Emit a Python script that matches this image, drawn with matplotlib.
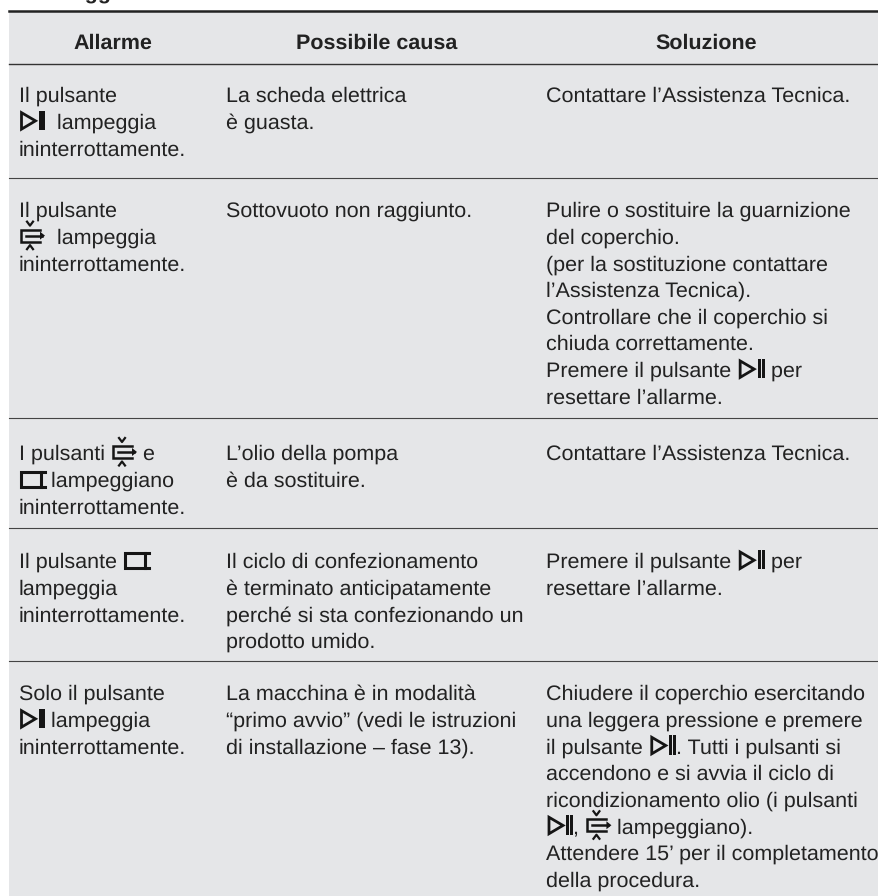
import matplotlib
matplotlib.use("Agg")
import matplotlib.pyplot as plt
from matplotlib.patches import Rectangle, Polygon

plt.rcParams["font.family"] = ["Liberation Sans", "DejaVu Sans"]
plt.rcParams["text.hinting"] = "no_hinting"

BG = "#e5e6e8"
INK = "#222222"
ICON = "#151515"
FONT_SIZE = 15.47
LINE_H = 26.65

HEADERS = ["Allarme", "Possibile causa", "Soluzione"]
HEADER_X = [113, 376.5, 706.5]
COL_X = [19, 226.5, 546.5]
RULES = [64, 178, 418, 528, 661]
ROW_BASE = [102, 217, 460, 568, 700]

ALARMS = [
    ["Il pulsante", "{pb}  lampeggia", "ininterrottamente."],
    ["Il pulsante", "{vac}  lampeggia", "ininterrottamente."],
    ["I pulsanti {vac} e", "{rect} lampeggiano", "ininterrottamente."],
    ["Il pulsante {rect}", "lampeggia", "ininterrottamente."],
    ["Solo il pulsante", "{pb} lampeggia", "ininterrottamente."],
]
CAUSES = [
    ["La scheda elettrica", "è guasta."],
    ["Sottovuoto non raggiunto."],
    ["L’olio della pompa", "è da sostituire."],
    ["Il ciclo di confezionamento", "è terminato anticipatamente",
     "perché si sta confezionando un", "prodotto umido."],
    ["La macchina è in modalità", "“primo avvio” (vedi le istruzioni",
     "di installazione – fase 13)."],
]
FIXES = [
    ["Contattare l’Assistenza Tecnica."],
    ["Pulire o sostituire la guarnizione", "del coperchio.",
     "(per la sostituzione contattare", "l’Assistenza Tecnica).",
     "Controllare che il coperchio si", "chiuda correttamente.",
     "Premere il pulsante {pp} per", "resettare l’allarme."],
    ["Contattare l’Assistenza Tecnica."],
    ["Premere il pulsante {pp} per", "resettare l’allarme."],
    ["Chiudere il coperchio esercitando", "una leggera pressione e premere",
     "il pulsante {pp}. Tutti i pulsanti si", "accendono e si avvia il ciclo di",
     "ricondizionamento olio (i pulsanti", "{pp}, {vac} lampeggiano).",
     "Attendere 15’ per il completamento", "della procedura."],
]
ICON_W = {"pb": 26, "pp": 27, "vac": 26, "rect": 26}


def draw_play(ax, x, y, bars):
    # x is the left edge, y the text baseline
    ax.add_patch(Polygon([(x + 1.5, y - 16), (x + 1.5, y + 0.5), (x + 15.5, y - 7.8)], closed=True,
                         fill=False, ec=ICON, lw=2.0, joinstyle="miter"))
    if bars == 1:
        ax.add_patch(Rectangle((x + 19, y - 18), 6, 19.5, fc=ICON, ec="none"))
    else:
        ax.add_patch(Rectangle((x + 19, y - 18), 3.0, 19.5, fc=ICON, ec="none"))
        ax.add_patch(Rectangle((x + 22.9, y - 18), 3.0, 19.5, fc=ICON, ec="none"))


def draw_vac(ax, x, y):
    ax.plot([x + 20, x + 1, x + 1, x + 20], [y - 14, y - 14, y - 2, y - 2], color=ICON, lw=1.8,
            solid_joinstyle="miter")
    ax.plot([x + 6, x + 22], [y - 8, y - 8], color=ICON, lw=1.8)
    ax.add_patch(Polygon([(x + 20, y - 12), (x + 25, y - 8), (x + 20, y - 4)], fc=ICON, ec="none"))
    ax.plot([x + 7, x + 10, x + 13], [y - 22, y - 18, y - 22], color=ICON, lw=1.6)
    ax.plot([x + 7, x + 10, x + 13], [y + 5.5, y + 1.5, y + 5.5], color=ICON, lw=1.6)


def draw_rect(ax, x, y):
    ax.plot([x + 25, x + 1, x + 1, x + 25], [y - 15, y - 15, y, y], color=ICON, lw=2.2,
            solid_joinstyle="miter")
    ax.plot([x + 21, x + 21], [y - 15, y], color=ICON, lw=2.2)


def draw_icon(ax, name, x, y):
    if name == "pb":
        draw_play(ax, x, y, 1)
    elif name == "pp":
        draw_play(ax, x, y, 2)
    elif name == "vac":
        draw_vac(ax, x, y)
    else:
        draw_rect(ax, x, y)


def text_width(fig, s):
    # pad with x so that spaces at the ends count
    probe = fig.text(0, 0, "x" + s + "x", fontsize=FONT_SIZE)
    full = probe.get_window_extent(fig.canvas.get_renderer()).width
    probe.set_text("xx")
    bare = probe.get_window_extent(fig.canvas.get_renderer()).width
    probe.remove()
    return full - bare


def draw_line(fig, ax, x, y, line):
    parts = line.replace("}", "{").split("{")
    for i, part in enumerate(parts):
        if i % 2:
            draw_icon(ax, part, x + 1, y)
            x += ICON_W[part]
        elif part:
            ax.text(x, y, part, fontsize=FONT_SIZE, color=INK, va="baseline", ha="left")
            x += text_width(fig, part)


fig = plt.figure(figsize=(8.79, 8.96), dpi=100)
ax = fig.add_axes([0, 0, 1, 1])
ax.set_xlim(0, 879)
ax.set_ylim(896, 0)
ax.axis("off")

ax.add_patch(Rectangle((9, 11), 870, 885, fc=BG, ec="none"))
ax.plot([9, 879], [11, 11], color="#222222", lw=1.8)
ax.plot([9, 879], [RULES[0], RULES[0]], color="#333333", lw=1.0)
for y in RULES[1:]:
    ax.plot([9, 879], [y, y], color="#444444", lw=0.8)

ax.text(20, -1, "Messaggi", fontsize=FONT_SIZE, fontweight="bold", color=INK, va="baseline", clip_on=True)

for name, x in zip(HEADERS, HEADER_X):
    ax.text(x, 48.6, name, fontsize=FONT_SIZE, fontweight="bold", color=INK, ha="center", va="baseline")

for col, rows in zip(COL_X, [ALARMS, CAUSES, FIXES]):
    for base, lines in zip(ROW_BASE, rows):
        for i, line in enumerate(lines):
            draw_line(fig, ax, col, base + i * LINE_H, line)

fig.savefig("out.png", dpi=100)
